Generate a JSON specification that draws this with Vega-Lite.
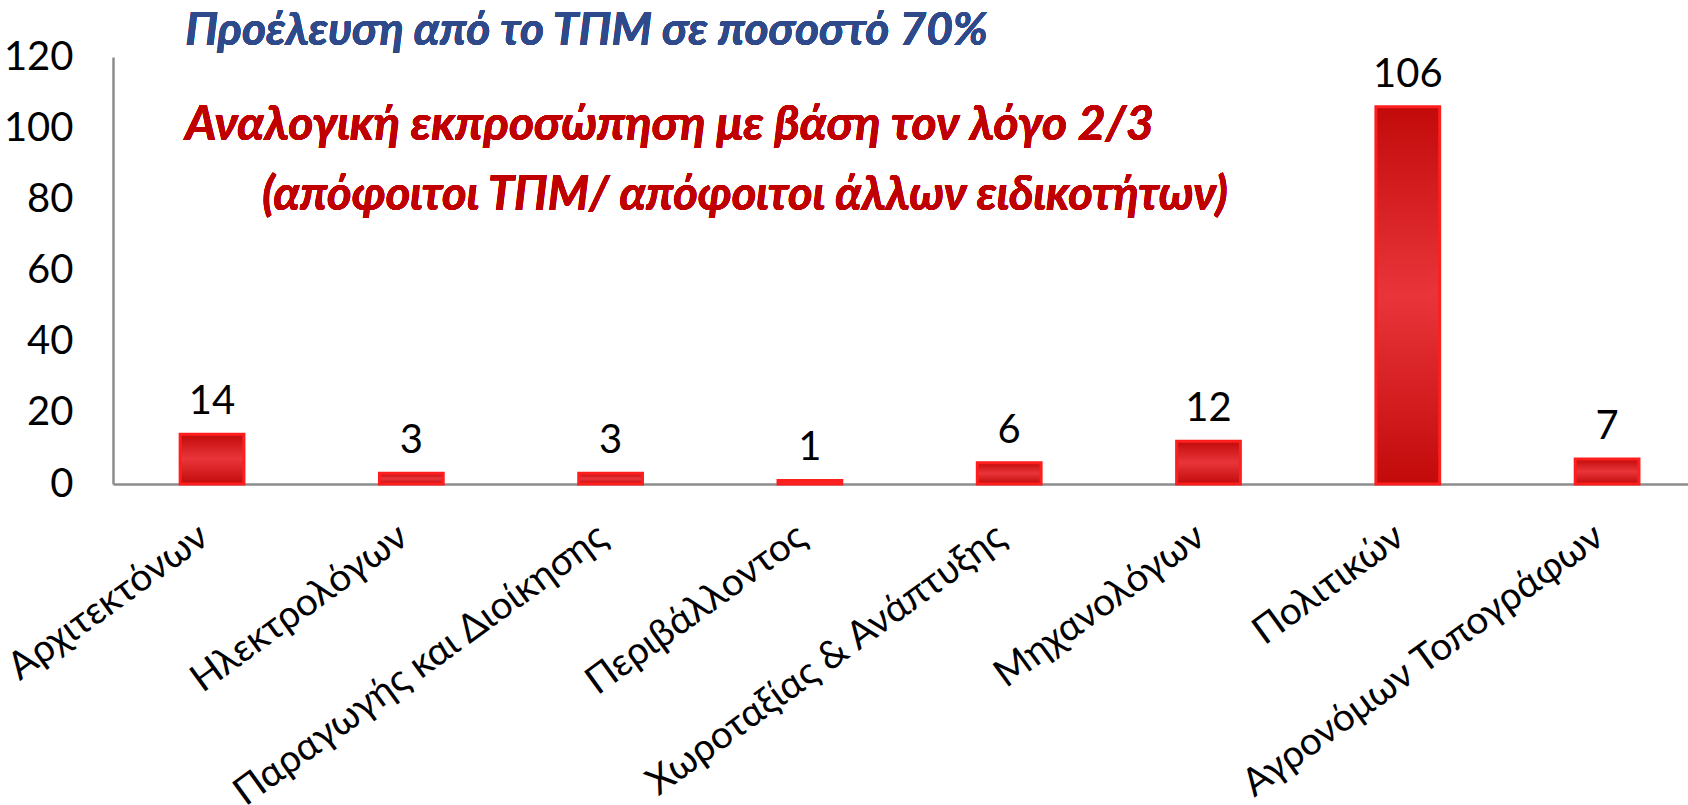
{
  "$schema": "https://vega.github.io/schema/vega-lite/v6.json",
  "width": 1575,
  "height": 427,
  "autosize": {"type": "none"},
  "padding": {"left": 113, "top": 57, "right": 0, "bottom": 321},
  "background": "white",
  "data": {
    "values": [
      {"category": "Αρχιτεκτόνων", "value": 14},
      {"category": "Ηλεκτρολόγων", "value": 3},
      {"category": "Παραγωγής και Διοίκησης", "value": 3},
      {"category": "Περιβάλλοντος", "value": 1},
      {"category": "Χωροταξίας & Ανάπτυξης", "value": 6},
      {"category": "Μηχανολόγων", "value": 12},
      {"category": "Πολιτικών", "value": 106},
      {"category": "Αγρονόμων Τοπογράφων", "value": 7}
    ]
  },
  "encoding": {
    "x": {
      "field": "category",
      "type": "nominal",
      "sort": null,
      "scale": {"paddingInner": 0.68, "paddingOuter": 0.2915, "align": 0.578},
      "axis": {
        "title": null,
        "labelAngle": -36,
        "labelAlign": "right",
        "labelBaseline": "middle",
        "labelFont": "Lato",
        "labelFontSize": 38.5,
        "labelColor": "#000000",
        "labelPadding": 48,
        "labelOffset": -8,
        "ticks": false,
        "domainColor": "#8C8C8C",
        "domainWidth": 2.5,
        "labelOverlap": false,
        "labelLimit": 0
      }
    },
    "y": {
      "field": "value",
      "type": "quantitative",
      "scale": {"domain": [0, 120], "nice": false},
      "axis": {
        "title": null,
        "values": [0, 20, 40, 60, 80, 100, 120],
        "grid": false,
        "ticks": false,
        "labelFont": "Lato",
        "labelFontSize": 40,
        "labelColor": "#000000",
        "labelPadding": 40,
        "domainColor": "#8C8C8C",
        "domainWidth": 2.5
      }
    }
  },
  "layer": [
    {
      "mark": {
        "type": "bar",
        "stroke": "#FF1E1E",
        "strokeWidth": 3,
        "color": {
          "gradient": "linear",
          "x1": 0, "y1": 0, "x2": 0, "y2": 1,
          "stops": [
            {"offset": 0, "color": "#C20A0A"},
            {"offset": 0.5, "color": "#E9353A"},
            {"offset": 1, "color": "#C20A0A"}
          ]
        }
      }
    },
    {
      "mark": {
        "type": "text",
        "baseline": "alphabetic",
        "dy": -20,
        "font": "Lato",
        "fontSize": 40,
        "color": "#000000"
      },
      "encoding": {"text": {"field": "value", "type": "quantitative"}}
    },
    {
      "mark": {
        "type": "text",
        "align": "left",
        "baseline": "alphabetic",
        "dx": 5,
        "font": "Lato",
        "fontSize": 46,
        "fontStyle": "italic",
        "fontWeight": "bold",
        "color": "#2F4A8A"
      },
      "encoding": {
        "x": {"datum": "Αρχιτεκτόνων", "type": "nominal", "bandPosition": 0},
        "y": {"datum": 123.4, "type": "quantitative"},
        "text": {"value": "Προέλευση από το ΤΠΜ σε ποσοστό 70%"}
      }
    },
    {
      "mark": {
        "type": "text",
        "align": "left",
        "baseline": "alphabetic",
        "dx": 5,
        "font": "Lato",
        "fontSize": 48,
        "fontStyle": "italic",
        "fontWeight": "bold",
        "color": "#C00000"
      },
      "encoding": {
        "x": {"datum": "Αρχιτεκτόνων", "type": "nominal", "bandPosition": 0},
        "y": {"datum": 96.7, "type": "quantitative"},
        "text": {"value": "Αναλογική εκπροσώπηση με βάση τον λόγο 2/3"}
      }
    },
    {
      "mark": {
        "type": "text",
        "align": "left",
        "baseline": "alphabetic",
        "dx": 82,
        "font": "Lato",
        "fontSize": 47,
        "fontStyle": "italic",
        "fontWeight": "bold",
        "color": "#C00000"
      },
      "encoding": {
        "x": {"datum": "Αρχιτεκτόνων", "type": "nominal", "bandPosition": 0},
        "y": {"datum": 77, "type": "quantitative"},
        "text": {"value": "(απόφοιτοι ΤΠΜ/ απόφοιτοι άλλων ειδικοτήτων)"}
      }
    }
  ],
  "config": {"view": {"stroke": null}}
}
